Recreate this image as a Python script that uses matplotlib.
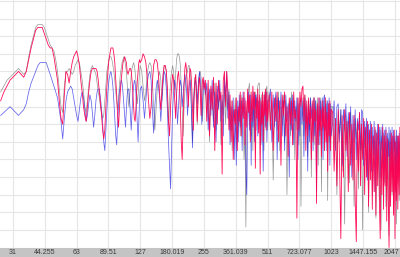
import numpy as np
import matplotlib
matplotlib.use('Agg')
import matplotlib.pyplot as plt
from matplotlib.transforms import ScaledTranslation

# x tick positions / labels (frequency bins, log2(f+1) axis)
tick_freqs = [31, 44.255, 63, 89.51, 127, 180.019, 255, 361.039, 511, 723.077, 1023, 1447.155, 2047]
tick_labels = ['31', '44.255', '63', '89.51', '127', '180.019', '255', '361.039',
               '511', '723.077', '1023', '1447.155', '2047']

# frequency bins of the plotted points
freq_lo = np.arange(27, 128, 1)
freq_m1 = np.arange(129, 256, 2)
freq_m2 = np.arange(259, 512, 4)
freq_m3 = np.arange(519, 1024, 8)
freq_hi = np.arange(1039, 2176, 16)

# attenuation below reference (dB) per series
gray_lo = [31,29,27,26,25,24,23,24,25,24, 19,15,12,9,8,8,8,9,11,13,
           15,16,17,20,24,30,36,38,29,24, 24,23,24,25,24,22,21,20,21,24,
           27,31,36,38,34,29,25,23,22,23, 24,25,28,31,33,36,38,40,39,34,
           29,24,22,20,19,19,20,22,24,27, 31,34,37,33,29,25,23,21,20,19,
           20,22,24,28,32,36,33,29,25,23, 22,21,22,24,27,31,35,32,28,24, 22]
red_lo = [34,31,29,27,26,25,24,25,26,24, 20,16,13,10,9,9,9,11,13,15,
          16,16,19,23,27,34,40,42,32,24, 25,28,24,21,19,18,17,19,22,27,
          31,36,39,41,36,31,27,24,23,23, 23,23,24,27,31,35,39,44,47,44,
          36,29,24,20,18,16,16,16,18,21, 27,32,39,43,37,31,27,24,21,20,
          19,20,21,24,25,24,23,23,24,27, 31,36,40,41,37,31,27,24,21,20, 21]
blue_lo = [39,38,37,36,37,38,39,38,37,35, 31,28,26,24,22,21,21,21,21,23,
           25,27,29,31,33,37,41,47,40,34, 31,30,29,30,33,36,39,41,37,33,
           31,33,37,41,39,35,32,34,38,43, 39,34,31,30,30,33,37,42,48,51,
           44,37,31,27,25,24,26,29,34,40, 46,49,42,36,31,29,27,28,31,35,
           39,43,37,32,30,30,34,39,44,38, 32,29,27,28,31,37,42,48,41,34, 30]

gray_m1 = [24,29,34,31,25,22,21,22,27,36, 44,37,30,26,24,27,34,27,22,22,
           24,32,42,34,27,24,22,24,30,25, 20,18,18,19,22,29,37,46,37,31,
           27,25,24,22,22,24,31,39,48,37, 30,26,29,36,42,32,27,25,24,26,
           32,41,34,29]
red_m1 = [20,18,19,21,26,34,40,36,28,22, 20,20,21,25,32,37,31,25,22,22,
          24,30,41,46,36,29,25,27,33,40, 32,26,24,28,37,48,54,41,29,23,
          21,24,30,36,27,23,24,29,37,44, 33,27,25,31,41,34,28,26,31,39,
          32,27,26,30]
blue_m1 = [29,34,40,34,28,25,24,27,37,45, 36,30,27,29,33,41,34,28,24,25,
           30,37,48,56,64,51,37,31,27,29, 34,42,36,30,27,29,36,32,28,25,
           27,31,39,34,29,27,31,41,50,39, 31,28,27,29,35,30,26,24,27,34,
           42,34,29,27]

gray_m2 = [29,37,31,48,30,34,41,28,44,32, 36,30,49,34,39,29,42,32,37,30,
           44,34,51,37,41,33,48,37,42,34, 46,32,39,36,54,44,77,41,32,30,
           28,37,46,32,51,34,41,31,44,33, 29,28,28,39,48,32,42,34,51,31,
           37,30,29,44]
red_m2 = [27,41,27,46,29,37,26,51,28,42, 27,34,31,59,27,24,36,24,31,44,
          32,48,34,54,37,42,33,51,36,41, 31,46,33,40,31,49,34,43,30,38,
          32,48,31,41,29,37,31,57,33,40, 30,45,32,59,34,42,31,48,32,39,
          30,44,31,41]
blue_m2 = [32,28,44,30,39,27,43,31,48,29, 37,27,41,32,46,26,34,24,40,31,
           49,36,44,33,54,37,56,34,48,32, 43,34,51,31,40,33,58,66,41,31,
           44,32,56,34,43,31,48,32,36,32, 46,34,41,33,49,35,44,58,37,32,
           43,31,48,34]

gray_m3 = [31,41,34,61,37,32,44,31,51,36, 42,32,48,34,66,39,34,46,31,41,
           33,54,36,44,33,49,34,70,41,33, 46,32,42,35,53,34,44,33,60,37,
           42,33,49,34,41,33,56,36,46,33, 65,37,44,34,51,35,42,34,68,38,
           48,35,44,36]
red_m3 = [32,44,31,51,33,41,31,48,34,56, 32,39,31,46,36,53,33,42,34,49,
          31,40,37,74,33,44,31,36,30,29, 41,32,51,34,46,33,42,36,54,34,
          48,33,41,37,69,35,49,33,44,37, 53,34,43,36,51,33,48,38,58,35,
          46,34,51,37]
blue_m3 = [34,30,48,32,43,31,54,33,40,31, 46,34,51,32,41,35,60,33,44,32,
           49,34,41,33,54,35,46,33,42,34, 53,33,44,36,58,34,48,33,40,35,
           51,33,46,34,65,36,44,33,49,34, 41,33,54,33,32,44,35,51,34,43,
           33,56,35,46]

gray_hi = [36,50,40,66,38,45,37,58,42,76, 39,48,41,62,38,52,44,70,40,47,
           42,64,39,55,43,78,41,50,44,60, 42,72,45,55,43,66,46,52,44,74,
           45,58,47,68,44,78,46,56,45,62, 48,70,46,55,47,80,45,60,48,66,
           46,72,47,58,48,76,46,62,47,68, 48,64]
red_hi = [38,58,40,63,37,54,81,39,60,37, 51,41,65,38,56,42,61,39,68,82,
          41,58,38,63,42,54,40,66,43,60, 41,70,44,61,42,71,46,65,43,73,
          45,63,42,68,81,48,66,43,71,46, 63,44,75,47,68,84,48,70,45,65,
          46,73,44,81,48,68,46,71,46,66, 43,70]
blue_hi = [41,34,51,36,35,48,37,56,37,44, 35,53,38,46,36,60,39,48,37,54,
           40,44,38,51,37,38,56,41,49,40, 61,42,51,41,58,43,53,41,65,44,
           54,42,51,43,60,43,51,42,63,44, 54,43,58,45,53,43,61,44,54,43,
           60,44,51,46,65,44,56,46,58,45, 54,44]

freq = np.concatenate([freq_lo, freq_m1, freq_m2, freq_m3, freq_hi])
gray = -np.array(gray_lo + gray_m1 + gray_m2 + gray_m3 + gray_hi, dtype=float)
red = -np.array(red_lo + red_m1 + red_m2 + red_m3 + red_hi, dtype=float)
blue = -np.array(blue_lo + blue_m1 + blue_m2 + blue_m3 + blue_hi, dtype=float)

fig = plt.figure(figsize=(4.0, 2.57), dpi=100, facecolor='#c4c4c4')
ax = fig.add_axes([0, 9.5 / 257, 1, 247.5 / 257])
ax.set_facecolor('white')

ax.set_xscale('function', functions=(lambda x: np.log2(np.maximum(x, 1e-9) + 1),
                                     lambda u: 2.0 ** u - 1))
ax.set_xlim(26.8, 2162)
ax.set_ylim(-84, 0.34)

ax.plot(freq, gray, color='#7c7c7c', lw=0.5, alpha=0.8, zorder=2)
ax.plot(freq, blue, color='#1010e0', lw=0.55, alpha=0.65, zorder=3)
ax.plot(freq, red, color='#ff0050', lw=0.6, alpha=0.95, zorder=4)

ax.set_xticks(tick_freqs)
ax.set_xticklabels(tick_labels)
ax.set_yticks(np.arange(-84, 1, 6))
ax.set_yticklabels([])
ax.grid(True, color='#e6e6e6', lw=0.8)
ax.set_axisbelow(True)
ax.tick_params(axis='both', length=0)
ax.tick_params(axis='x', pad=1.2, labelsize=5, labelcolor='#3a3a3a')
labels = ax.get_xticklabels()
for lab in labels:
    lab.set_fontfamily('Liberation Sans')
labels[-1].set_horizontalalignment('right')
labels[-1].set_transform(labels[-1].get_transform() + ScaledTranslation(4.5 / 100, 0, fig.dpi_scale_trans))
for s in ax.spines.values():
    s.set_visible(False)

fig.savefig('out.png', dpi=100, facecolor=fig.get_facecolor())
